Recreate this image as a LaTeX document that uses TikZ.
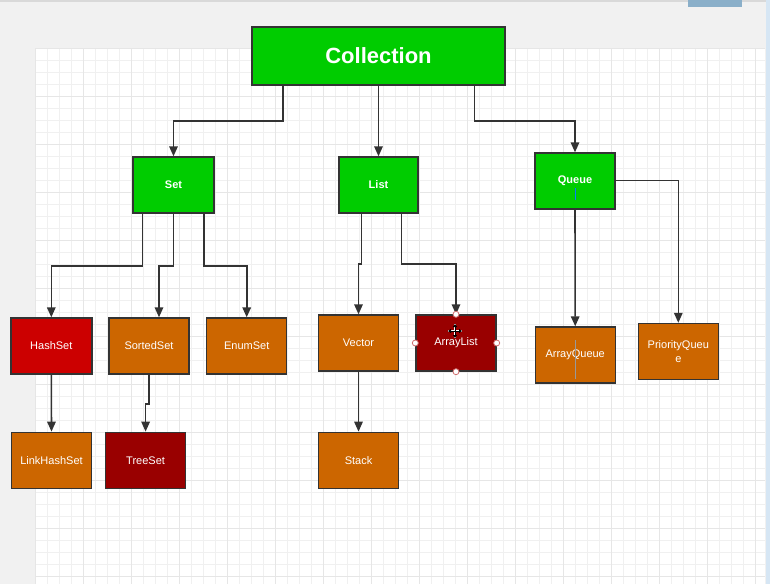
\documentclass[tikz,border=0pt]{standalone}
\usepackage{fontspec}
\setmainfont{Liberation Sans}
\usetikzlibrary{arrows.meta}
\definecolor{cgreen}{HTML}{00CC00}
\definecolor{cred}{HTML}{CC0000}
\definecolor{corange}{HTML}{CC6600}
\definecolor{cdark}{HTML}{990000}
\definecolor{boxline}{HTML}{333333}
\definecolor{outerbg}{HTML}{F1F1F1}
\definecolor{gridminor}{HTML}{F0F0F0}
\definecolor{gridmajor}{HTML}{E6E6E6}
\definecolor{tabblue}{HTML}{8AAFC9}
\definecolor{stripblue}{HTML}{D6E6F4}
\definecolor{handle}{HTML}{D07070}
\tikzset{
  box/.style={draw=boxline, line width=1.4pt, minimum width=80pt, minimum height=56pt,
    inner sep=0pt, text=white, font=\fontsize{11}{13.5}\selectfont, align=center},
  gbox/.style={box, fill=cgreen, font=\fontsize{11}{13.5}\selectfont\bfseries},
  rbox/.style={box, fill=cred},
  obox/.style={box, fill=corange},
  dbox/.style={box, fill=cdark},
  conn/.style={draw=boxline, line width=1.6pt, -{Triangle[length=10pt,width=8.5pt]}},
  hdl/.style={circle, draw=handle, fill=white, line width=0.8pt, inner sep=0pt, minimum size=6pt}
}
\begin{document}
\begin{tikzpicture}[x=1pt,y=-1pt]
\useasboundingbox (0,0) rectangle (770,584);
% background
\fill[outerbg] (0,0) rectangle (770,584);
\fill[black!15] (0,0) rectangle (770,1.5);
\fill[white] (35,48) rectangle (765,584);
\begin{scope}
\clip (35,48) rectangle (765,584);
\foreach \i in {0,...,61} {
  \draw[gridminor, line width=0.8pt] ({35+12*\i},48) -- ({35+12*\i},584);
}
\foreach \j in {0,...,45} {
  \draw[gridminor, line width=0.8pt] (35,{48+12*\j}) -- (765,{48+12*\j});
}
\foreach \i in {0,...,15} {
  \draw[gridmajor, line width=0.9pt] ({35+48*\i},48) -- ({35+48*\i},584);
}
\foreach \j in {0,...,11} {
  \draw[gridmajor, line width=0.9pt] (35,{48+48*\j}) -- (765,{48+48*\j});
}
\end{scope}
\fill[stripblue] (765.5,0) rectangle (770,584);
\fill[tabblue] (688,0) rectangle (742,7);

% nodes
\node[gbox, minimum width=253pt, minimum height=58pt, font=\fontsize{22}{26}\selectfont\bfseries] (coll) at (378.5,56) {Collection};
\node[gbox, minimum width=81pt] (set) at (173.5,185) {Set};
\node[gbox, minimum width=79pt] (list) at (378.5,185) {List};
\node[gbox] (queue) at (575,181) {Queue};

\node[rbox, minimum width=81pt] (hashset) at (51.3,346) {HashSet};
\node[obox] (sortedset) at (149,346) {SortedSet};
\node[obox] (enumset) at (246.7,346) {EnumSet};
\node[obox] (linkhashset) at (51.5,460.3) {LinkHashSet};
\node[dbox] (treeset) at (145.6,460.3) {TreeSet};
\node[obox] (vector) at (358.5,343) {Vector};
\node[dbox] (arraylist) at (456,343) {ArrayList};
\node[obox] (stack) at (358.5,460.3) {Stack};
\node[obox] (arrayqueue) at (575.2,355) {ArrayQueue};
\node[obox] (priorityqueue) at (678.3,351.5) {PriorityQueu\\e};

% connectors
\draw[conn] ([xshift=-95.5pt]coll.south) -- ++(0,35) -| (set.north);
\draw[conn] (coll.south) -- (list.north);
\draw[conn] ([xshift=96pt]coll.south) -- ++(0,35) -| (queue.north);

\draw[conn] ([xshift=-31pt]set.south) -- ++(0,52) -| (hashset.north);
\draw[conn] (set.south) -- ++(0,52) -| ([xshift=10pt]sortedset.north);
\draw[conn] ([xshift=30.5pt]set.south) -- ++(0,52) -| (enumset.north);
\draw[conn] (hashset.south) -- (linkhashset.north);
\draw[conn] (sortedset.south) -- ++(0,29.5) -| (treeset.north);

\draw[conn] ([xshift=-17pt]list.south) -- ++(0,50) -| (vector.north);
\draw[conn] ([xshift=23pt]list.south) -- ++(0,50) -| (arraylist.north);
\draw[conn] (vector.south) -- (stack.north);

\draw[conn] (queue.south) -- (arrayqueue.north);
\draw[conn] ([yshift=0.5pt]queue.east) -| (priorityqueue.north);

% text cursors
\draw[blue!50!cyan, line width=0.6pt] (575,188) -- (575,200);
\draw[black!40, line width=0.6pt] (575,340) -- (575,379);

% selection handles on ArrayList
\node[hdl] (h1) at (arraylist.north) {};
\node[hdl] (h2) at (arraylist.south) {};
\node[hdl] (h3) at (arraylist.west) {};
\node[hdl] (h4) at (arraylist.east) {};

% move cursor
\coordinate (mc) at (455,331);
\draw[white, line width=2.4pt] ([xshift=-7pt]mc) -- ([xshift=7pt]mc) ([yshift=-7pt]mc) -- ([yshift=7pt]mc);
\draw[black, line width=0.9pt, {Triangle[length=3pt,width=4pt]}-{Triangle[length=3pt,width=4pt]}] ([xshift=-7pt]mc) -- ([xshift=7pt]mc);
\draw[black, line width=0.9pt, {Triangle[length=3pt,width=4pt]}-{Triangle[length=3pt,width=4pt]}] ([yshift=-7pt]mc) -- ([yshift=7pt]mc);
\end{tikzpicture}
\end{document}
